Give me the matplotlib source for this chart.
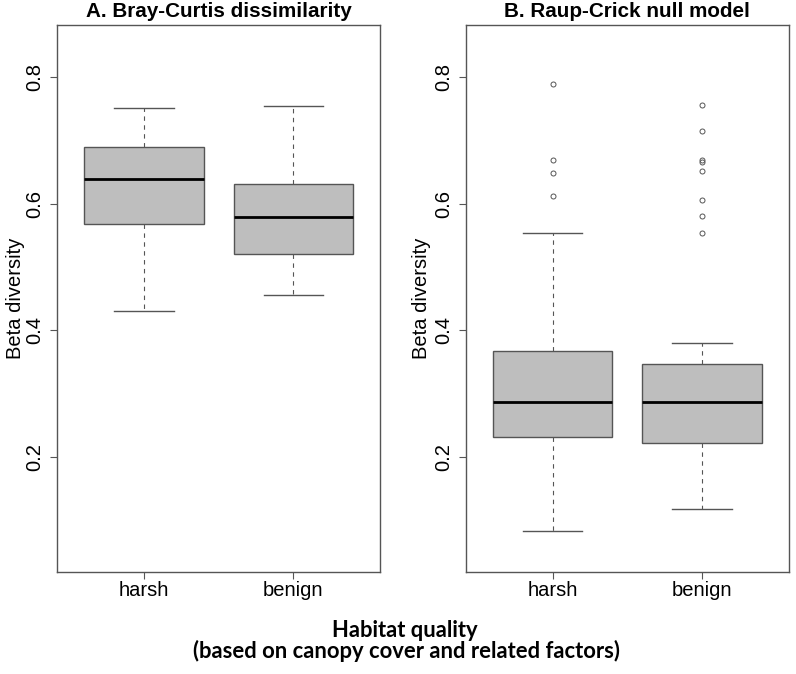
"""Two-panel beta diversity boxplots (Bray-Curtis vs Raup-Crick) by habitat quality."""
import matplotlib
matplotlib.use("Agg")
import matplotlib.pyplot as plt

# ---- data ----
groups = ["harsh", "benign"]

# A. Bray-Curtis dissimilarity
bc_whislo = [0.430, 0.455]
bc_q1 = [0.567, 0.521]
bc_med = [0.639, 0.579]
bc_q3 = [0.689, 0.631]
bc_whishi = [0.751, 0.754]
bc_fliers = [[], []]

# B. Raup-Crick null model
rc_whislo = [0.083, 0.118]
rc_q1 = [0.232, 0.221]
rc_med = [0.286, 0.286]
rc_q3 = [0.367, 0.346]
rc_whishi = [0.554, 0.380]
rc_fliers = [
    [0.789, 0.668, 0.649, 0.612],
    [0.755, 0.715, 0.669, 0.665, 0.651, 0.606, 0.580, 0.554],
]

YLIM = (0.05, 0.85)
YTICKS = [0.2, 0.4, 0.6, 0.8]

W, H = 796, 674
EDGE = "#555555"
FILL = "#bebebe"


def stats(whislo, q1, med, q3, whishi, fliers):
    return [dict(label=g, whislo=a, q1=b, med=c, q3=d, whishi=e, fliers=f)
            for g, a, b, c, d, e, f in zip(groups, whislo, q1, med, q3, whishi, fliers)]


def draw_panel(ax, st, title):
    ax.bxp(st, positions=[1, 2], widths=0.8, patch_artist=True, showfliers=True,
           boxprops=dict(facecolor=FILL, edgecolor=EDGE, linewidth=1.0),
           medianprops=dict(color="black", linewidth=2.0),
           whiskerprops=dict(color=EDGE, linewidth=0.8, linestyle=(0, (4, 4))),
           capprops=dict(color=EDGE, linewidth=1.0),
           capwidths=0.4,
           flierprops=dict(marker="o", markersize=3.6, markerfacecolor="none",
                           markeredgecolor=EDGE, markeredgewidth=0.7, linestyle="none"))
    # R-style 4% axis expansion
    pad = (YLIM[1] - YLIM[0]) * 0.04
    ax.set_ylim(YLIM[0] - pad, YLIM[1] + pad)
    ax.set_xlim(0.5 - 0.08, 2.5 + 0.08)
    ax.set_yticks(YTICKS, [f"{t:.1f}" for t in YTICKS])
    ax.set_xticks([1, 2], groups)
    for s in ax.spines.values():
        s.set_color(EDGE)
        s.set_linewidth(1.0)
    ax.tick_params(axis="both", colors=EDGE, labelcolor="black", labelsize=14.5,
                   length=5, width=0.8)
    ax.tick_params(axis="x", pad=1.5)
    ax.tick_params(axis="y", pad=4.5)
    for lab in ax.get_yticklabels():
        lab.set_rotation(90)
        lab.set_va("center")
    ax.set_title(title, fontsize=14.9, fontweight="bold", pad=6)


plt.rcParams["font.family"] = ["Liberation Sans", "DejaVu Sans"]
fig = plt.figure(figsize=(W / 100, H / 100), dpi=100)

top, bottom = 25, 572
ax_h = (bottom - top) / H
ax_w = 322.5 / W
axA = fig.add_axes([57.5 / W, 1 - bottom / H, ax_w, ax_h])
axB = fig.add_axes([466 / W, 1 - bottom / H, ax_w, ax_h])

draw_panel(axA, stats(bc_whislo, bc_q1, bc_med, bc_q3, bc_whishi, bc_fliers),
           "A. Bray-Curtis dissimilarity")
draw_panel(axB, stats(rc_whislo, rc_q1, rc_med, rc_q3, rc_whishi, rc_fliers),
           "B. Raup-Crick null model")

ymid = 1 - (top + bottom) / 2 / H
fig.text(16 / W, ymid, "Beta diversity", rotation=90, ha="center", va="center", fontsize=14.5)
fig.text(421 / W, ymid, "Beta diversity", rotation=90, ha="center", va="center", fontsize=14.5)

fig.text(404.5 / W, 1 - 636.7 / H, "Habitat quality", ha="center", va="baseline",
         fontsize=15.8, fontweight="bold", family=["Lato", "DejaVu Sans"])
fig.text(406.5 / W, 1 - 657.5 / H, "(based on canopy cover and related factors)", ha="center",
         va="baseline", fontsize=15.8, fontweight="bold", family=["Lato", "DejaVu Sans"])

fig.savefig("out.png", dpi=100)
